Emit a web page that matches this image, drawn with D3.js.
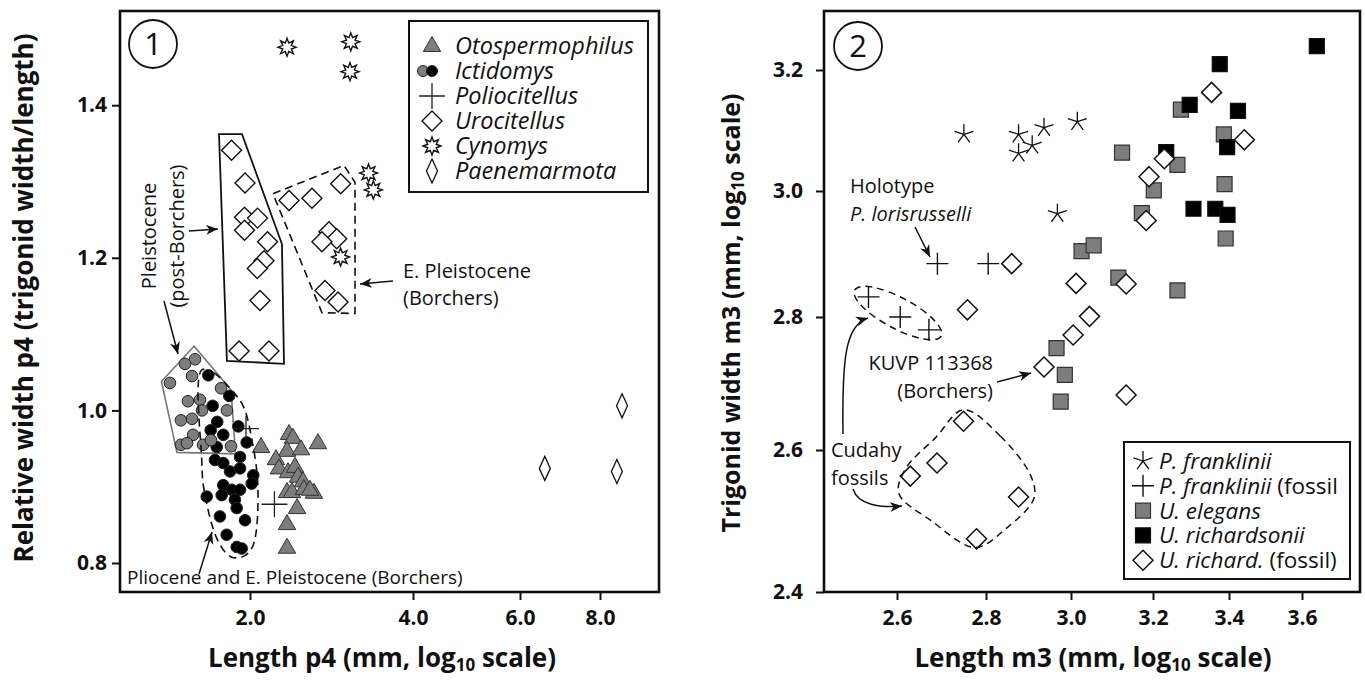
<!DOCTYPE html>
<html><head><meta charset="utf-8">
<script src="https://cdn.jsdelivr.net/npm/d3@7"></script>
<style>
body{margin:0;background:#fff}
svg{display:block}
text{font-family:"Open Sans","Noto Sans",sans-serif;fill:#111}
</style></head>
<body><svg id="c" width="1365" height="681"></svg>
<script>
// ---------------- DATA: panel 1 (Length p4 vs relative width p4) ----------------
const p1XTicks = [2, 4, 6, 8];
const p1YTicks = [0.8, 1.0, 1.2, 1.4];
const p1Legend = ["Otospermophilus", "Ictidomys", "Poliocitellus", "Urocitellus", "Cynomys", "Paenemarmota"];
const otospermophilus = [[2.096,0.952],[2.361,0.969],[2.401,0.964],[2.670,0.957],[2.341,0.947],[2.484,0.949],[2.233,0.936],[2.262,0.924],[2.351,0.919],[2.422,0.926],[2.453,0.913],[2.505,0.907],[2.341,0.893],[2.391,0.893],[2.515,0.897],[2.625,0.892],[2.443,0.872],[2.341,0.851],[2.341,0.820],[2.581,0.896]];
const ictidomysGray = [[1.583,1.067],[1.517,1.061],[1.423,1.036],[1.563,1.045],[1.768,1.029],[1.536,1.012],[1.617,1.014],[1.631,1.000],[1.813,1.000],[1.491,0.987],[1.563,0.989],[1.570,0.968],[1.491,0.955],[1.530,0.957],[1.638,0.955],[1.694,0.961],[1.845,0.953]];
const ictidomysBlack = [[1.675,1.046],[1.831,1.019],[1.706,1.006],[1.740,0.985],[1.692,0.974],[1.785,0.968],[1.903,0.979],[1.972,0.958],[1.736,0.952],[1.723,0.935],[1.785,0.931],[1.917,0.939],[1.837,0.920],[1.917,0.924],[2.028,0.915],[2.014,0.904],[1.785,0.902],[1.850,0.896],[1.917,0.896],[1.664,0.887],[1.773,0.889],[1.876,0.883],[1.890,0.872],[1.760,0.861],[1.958,0.856],[1.811,0.837],[1.890,0.821],[1.931,0.819]];
const poliocitellus = [[1.966,0.976],[2.219,0.877]];
const urocitellus = [[1.849,1.341],[1.958,1.298],[1.954,1.253],[2.065,1.252],[1.954,1.236],[2.155,1.221],[2.123,1.196],[2.063,1.186],[2.087,1.144],[1.909,1.078],[2.168,1.078],[2.361,1.275],[2.603,1.278],[2.941,1.297],[2.798,1.234],[2.892,1.225],[2.716,1.221],[2.751,1.157],[2.908,1.142]];
const cynomys = [[2.341,1.476],[3.07,1.483],[3.06,1.444],[3.311,1.311],[3.379,1.289],[2.94,1.201]];
const paenemarmota = [[8.66,1.006],[6.56,0.924],[8.50,0.920]];
// group outlines (data units)
const hullPostBorchers = [[1.753,1.362],[1.933,1.362],[2.291,1.218],[2.311,1.061],[1.813,1.065]];
const hullEPleistocene = [[2.205,1.284],[2.983,1.321],[3.126,1.299],[3.126,1.127],[2.716,1.128]];
const hullIctidomysGray = [[1.577,1.084],[1.3725,1.038],[1.466,0.945],[1.880,0.943],[1.845,1.027]];
const hullPliocene = [[1.629,1.053],[1.716,1.049],[1.837,1.029],[1.942,1.006],[2.017,0.961],[2.069,0.897],[2.026,0.823],[1.950,0.809],[1.845,0.808],[1.745,0.829],[1.645,0.896],[1.629,0.935]];

// ---------------- DATA: panel 2 (Length m3 vs trigonid width m3) ----------------
const p2XTicks = [2.6, 2.8, 3.0, 3.2, 3.4, 3.6];
const p2YTicks = [2.4, 2.6, 2.8, 3.0, 3.2];
const p2Legend = ["P. franklinii", "P. franklinii (fossil", "U. elegans", "U. richardsonii", "U. richard. (fossil)"];
const pFranklinii = [[2.749,3.092],[2.875,3.092],[2.935,3.103],[3.015,3.113],[2.907,3.074],[2.875,3.061],[2.967,2.963]];
const pFranklinFossil = [[2.689,2.883],[2.805,2.883],[2.539,2.831],[2.607,2.800],[2.670,2.780]];
const uElegans = [[3.272,3.133],[3.123,3.062],[3.263,3.042],[3.202,3.001],[3.386,3.092],[3.388,3.011],[3.172,2.964],[3.025,2.903],[3.054,2.912],[3.114,2.861],[3.391,2.923],[3.263,2.841],[2.965,2.752],[2.985,2.711],[2.975,2.671]];
const uRichardsonii = [[3.375,3.210],[3.295,3.141],[3.424,3.131],[3.234,3.063],[3.395,3.071],[3.305,2.971],[3.363,2.971],[3.396,2.961],[3.642,3.241]];
const uRichardFossil = [[3.353,3.162],[3.441,3.083],[3.229,3.052],[3.190,3.023],[3.183,2.952],[2.859,2.883],[3.012,2.852],[3.133,2.851],[3.044,2.801],[2.757,2.811],[3.005,2.772],[2.935,2.723],[3.133,2.681],[2.748,2.642],[2.688,2.581],[2.629,2.562],[2.875,2.532],[2.778,2.473]];
const cudahyOutline = [[2.748,2.659],[2.833,2.620],[2.904,2.562],[2.911,2.530],[2.845,2.487],[2.775,2.461],[2.674,2.499],[2.604,2.537],[2.618,2.572],[2.685,2.618]];
const kuvpCenter = [2.602, 2.806];

// ---------------- LAYOUT ----------------
const svg = d3.select("#c");
const P1 = {left:120, right:659, top:11, bottom:592};
const P2 = {left:824, right:1360, top:11, bottom:592};

const x1 = d3.scaleLog().domain(p1XTicks).range([250, 413, 520, 600]);
const y1 = d3.scaleLinear().domain([0.8, 1.4]).range([563, 105.2]);
const x2 = d3.scaleLog().domain(p2XTicks).range([897, 986, 1071, 1153, 1229, 1302]);
const y2 = d3.scaleLog().domain(p2YTicks).range([592, 450, 317, 191, 70]);

const GRAY = "#7d7d7d";
const defs = svg.append("defs");
defs.append("marker").attr("id","ah").attr("viewBox","-12 -6 14 12").attr("refX",0).attr("refY",0)
  .attr("markerWidth",14).attr("markerHeight",12).attr("markerUnits","userSpaceOnUse").attr("orient","auto")
  .append("path").attr("d","M0,0L-12,-5L-8.5,0L-12,5Z").attr("fill","#111");

// symbol paths
const star8 = (() => { let p=[]; for (let i=0;i<16;i++){const a=(-90+i*22.5)*Math.PI/180, r=i%2?4.6:9; p.push([r*Math.cos(a), r*Math.sin(a)]);} return "M"+p.map(q=>q[0].toFixed(2)+","+q[1].toFixed(2)).join("L")+"Z"; })();
const ast5 = (() => { let s=""; for (let i=0;i<5;i++){const a=(-90+i*72)*Math.PI/180; s+="M0,0L"+(10*Math.cos(a)).toFixed(2)+","+(10*Math.sin(a)).toFixed(2);} return s; })();
const SYM = {
  tri: "M0,-9.5L8.7,5.5L-8.7,5.5Z",
  dia: "M0,-10L10,0L0,10L-10,0Z",
  ndia: "M0,-12L5.5,0L0,12L-5.5,0Z",
  cross: "M-13,0H13M0,-13V13",
  plus: "M-11,0H11M0,-11V11",
  sq: "M-7.5,-7.5H7.5V7.5H-7.5Z",
  star8, ast5
};

function pts(g, data, x, y, d, fill, stroke, sw){
  g.append("g").selectAll("path").data(data).join("path")
    .attr("d", d).attr("transform", p => `translate(${x(p[0])},${y(p[1])})`)
    .attr("fill", fill).attr("stroke", stroke).attr("stroke-width", sw);
}
function circ(g, data, x, y, fill){
  g.append("g").selectAll("circle").data(data).join("circle")
    .attr("cx", p=>x(p[0])).attr("cy", p=>y(p[1])).attr("r", 5.8)
    .attr("fill", fill).attr("stroke", "#222").attr("stroke-width", 1);
}

// ---------------- PANEL 1 ----------------
const g1 = svg.append("g");
g1.append("path").attr("d", d3.line().x(d=>x1(d[0])).y(d=>y1(d[1])).curve(d3.curveLinearClosed)(hullIctidomysGray)).attr("fill","none").attr("stroke","#777").attr("stroke-width",1.6);

circ(g1, ictidomysBlack, x1, y1, "#000");
circ(g1, ictidomysGray, x1, y1, GRAY);
pts(g1, otospermophilus, x1, y1, SYM.tri, GRAY, "#333", 1);
pts(g1, poliocitellus, x1, y1, SYM.cross, "none", "#222", 1.3);
pts(g1, urocitellus, x1, y1, SYM.dia, "#fff", "#111", 1.4);
pts(g1, cynomys, x1, y1, SYM.star8, "#fff", "#111", 1.4);
pts(g1, paenemarmota, x1, y1, SYM.ndia, "#fff", "#111", 1.3);

g1.append("path").attr("d", d3.line().x(d=>x1(d[0])).y(d=>y1(d[1])).curve(d3.curveCatmullRomClosed.alpha(0.5))(hullPliocene))
  .attr("fill","none").attr("stroke","#111").attr("stroke-width",1.6).attr("stroke-dasharray","8,5");
g1.append("path").attr("d", d3.line().x(d=>x1(d[0])).y(d=>y1(d[1])).curve(d3.curveLinearClosed)(hullPostBorchers))
  .attr("fill","none").attr("stroke","#111").attr("stroke-width",1.8);
g1.append("path").attr("d", d3.line().x(d=>x1(d[0])).y(d=>y1(d[1])).curve(d3.curveLinearClosed)(hullEPleistocene))
  .attr("fill","none").attr("stroke","#111").attr("stroke-width",1.6).attr("stroke-dasharray","8,5");

g1.append("rect").attr("x",P1.left).attr("y",P1.top).attr("width",P1.right-P1.left).attr("height",P1.bottom-P1.top)
  .attr("fill","none").attr("stroke","#111").attr("stroke-width",2.6);

function styleAxis(g){
  g.select(".domain").remove();
  g.selectAll(".tick line").attr("stroke","#111").attr("stroke-width",2);
  g.selectAll(".tick text").style("font-weight","700").style("font-size","21px").attr("fill","#111");
}
svg.append("g").attr("transform",`translate(0,${P1.bottom})`)
  .call(d3.axisBottom(x1).tickValues(p1XTicks).tickFormat(d3.format(".1f")).tickSize(8).tickPadding(10)).call(styleAxis);
svg.append("g").attr("transform",`translate(${P1.left},0)`)
  .call(d3.axisLeft(y1).tickValues(p1YTicks).tickFormat(d3.format(".1f")).tickSize(8).tickPadding(5)).call(styleAxis);

g1.append("circle").attr("cx",153).attr("cy",44).attr("r",24).attr("fill","#fff").attr("stroke","#111").attr("stroke-width",1.8);
g1.append("text").attr("x",153).attr("y",55).attr("text-anchor","middle").style("font-size","31px").text("1");

// legend 1
const L1 = g1.append("g");
L1.append("rect").attr("x",409).attr("y",21).attr("width",239).attr("height",171).attr("fill","#fff").attr("stroke","#111").attr("stroke-width",2);
const l1sym = [
  [{d:SYM.tri, f:GRAY, s:"#333", w:1, dx:0}],
  [{c:GRAY, dx:-9},{c:"#000", dx:0}],
  [{d:SYM.cross, f:"none", s:"#222", w:1.3, dx:0}],
  [{d:SYM.dia, f:"#fff", s:"#111", w:1.4, dx:0}],
  [{d:SYM.star8, f:"#fff", s:"#111", w:1.4, dx:0}],
  [{d:SYM.ndia, f:"#fff", s:"#111", w:1.3, dx:0}]
];
p1Legend.forEach((name,i)=>{
  const cy = 46 + i*25, cx = 432;
  l1sym[i].forEach(m=>{
    if (m.c) L1.append("circle").attr("cx",cx+m.dx).attr("cy",cy).attr("r",5.5).attr("fill",m.c).attr("stroke","#222").attr("stroke-width",1);
    else L1.append("path").attr("d",m.d).attr("transform",`translate(${cx+m.dx},${cy})`).attr("fill",m.f).attr("stroke",m.s).attr("stroke-width",m.w);
  });
  L1.append("text").attr("x",455).attr("y",cy+8).style("font-style","italic").style("font-size","23.5px").text(name);
});

// annotations panel 1
const A1 = g1.append("g").attr("fill","none").attr("stroke","#111").attr("stroke-width",1.5);
A1.append("path").attr("d","M189,231L218,229").attr("marker-end","url(#ah)");
A1.append("path").attr("d","M164,301L178,354").attr("marker-end","url(#ah)");
A1.append("path").attr("d","M393,281L360,284").attr("marker-end","url(#ah)");
A1.append("path").attr("d","M199,574L212,532").attr("marker-end","url(#ah)");
const T = (g,x,y,s,size,opts={}) => { const t=g.append("text").attr("x",x).attr("y",y).style("font-size",size+"px").text(s); if(opts.anchor) t.attr("text-anchor",opts.anchor); if(opts.italic) t.style("font-style","italic"); if(opts.rot) t.attr("transform",`rotate(-90,${x},${y})`); return t; };
T(g1,156,236,"Pleistocene",20,{anchor:"middle",rot:true});
T(g1,184,236,"(post-Borchers)",20,{anchor:"middle",rot:true});
T(g1,403,278,"E. Pleistocene",20);
T(g1,403,305,"(Borchers)",20);
T(g1,127,584,"Pliocene and E. Pleistocene (Borchers)",19);

// titles panel 1
const tx1 = svg.append("text").attr("x",382).attr("y",667).attr("text-anchor","middle").style("font-weight","700").style("font-size","26px");
tx1.append("tspan").text("Length p4 (mm, log");
tx1.append("tspan").attr("dy",4).style("font-size","17px").text("10");
tx1.append("tspan").attr("dy",-4).text(" scale)");
svg.append("text").attr("transform","translate(33,298) rotate(-90)").attr("text-anchor","middle").style("font-weight","700").style("font-size","26px")
  .text("Relative width p4 (trigonid width/length)");

// ---------------- PANEL 2 ----------------
const g2 = svg.append("g");
pts(g2, pFranklinii, x2, y2, SYM.ast5, "none", "#111", 1.3);
pts(g2, pFranklinFossil, x2, y2, SYM.plus, "none", "#111", 1.4);
pts(g2, uElegans, x2, y2, SYM.sq, GRAY, "#333", 1.2);
pts(g2, uRichardsonii, x2, y2, SYM.sq, "#000", "#111", 1.2);
pts(g2, uRichardFossil, x2, y2, SYM.dia, "#fff", "#111", 1.5);

g2.append("ellipse").attr("cx",x2(kuvpCenter[0])).attr("cy",y2(kuvpCenter[1])).attr("rx",49).attr("ry",15.5)
  .attr("transform",`rotate(28,${x2(kuvpCenter[0])},${y2(kuvpCenter[1])})`)
  .attr("fill","none").attr("stroke","#111").attr("stroke-width",1.5).attr("stroke-dasharray","7,5");
g2.append("path").attr("d", d3.line().x(d=>x2(d[0])).y(d=>y2(d[1])).curve(d3.curveCatmullRomClosed.alpha(0.5))(cudahyOutline))
  .attr("fill","none").attr("stroke","#111").attr("stroke-width",1.5).attr("stroke-dasharray","7,5");

g2.append("rect").attr("x",P2.left).attr("y",P2.top).attr("width",P2.right-P2.left).attr("height",P2.bottom-P2.top)
  .attr("fill","none").attr("stroke","#111").attr("stroke-width",2.6);

svg.append("g").attr("transform",`translate(0,${P2.bottom})`)
  .call(d3.axisBottom(x2).tickValues(p2XTicks).tickFormat(d3.format(".1f")).tickSize(8).tickPadding(10)).call(styleAxis);
svg.append("g").attr("transform",`translate(${P2.left},0)`)
  .call(d3.axisLeft(y2).tickValues(p2YTicks).tickFormat(d3.format(".1f")).tickSize(8).tickPadding(13)).call(styleAxis);

g2.append("circle").attr("cx",858).attr("cy",46).attr("r",24).attr("fill","#fff").attr("stroke","#111").attr("stroke-width",1.8);
g2.append("text").attr("x",858).attr("y",57).attr("text-anchor","middle").style("font-size","31px").text("2");

// legend 2
const L2 = g2.append("g");
L2.append("rect").attr("x",1124).attr("y",442).attr("width",226).attr("height",137).attr("fill","#fff").attr("stroke","#111").attr("stroke-width",2);
const l2sym = [
  {d:SYM.ast5, f:"none", s:"#111", w:1.3},
  {d:SYM.plus, f:"none", s:"#111", w:1.4},
  {d:SYM.sq, f:GRAY, s:"#333", w:1.2},
  {d:SYM.sq, f:"#000", s:"#111", w:1.2},
  {d:SYM.dia, f:"#fff", s:"#111", w:1.5}
];
p2Legend.forEach((name,i)=>{
  const cy = 461 + i*24.8;
  const m = l2sym[i];
  L2.append("path").attr("d",m.d).attr("transform",`translate(1143,${cy})`).attr("fill",m.f).attr("stroke",m.s).attr("stroke-width",m.w);
  const t = L2.append("text").attr("x",1159).attr("y",cy+8).style("font-size","22.5px");
  const k = name.indexOf(" (");
  if (k>0){ t.append("tspan").style("font-style","italic").text(name.slice(0,k)); t.append("tspan").text(name.slice(k)); }
  else t.style("font-style","italic").text(name);
});

// annotations panel 2
const A2 = g2.append("g").attr("fill","none").attr("stroke","#111").attr("stroke-width",1.5);
A2.append("path").attr("d","M915,227L930,257").attr("marker-end","url(#ah)");
A2.append("path").attr("d","M997,382L1031,373").attr("marker-end","url(#ah)");
A2.append("path").attr("d","M843,434C842,360 845,325 868,318").attr("marker-end","url(#ah)");
A2.append("path").attr("d","M853,489C858,505 880,508 902,506").attr("marker-end","url(#ah)");
T(g2,850,193,"Holotype",20);
T(g2,850,221,"P. lorisrusselli",20,{italic:true});
T(g2,993,370,"KUVP 113368",20,{anchor:"end"});
T(g2,993,398,"(Borchers)",20,{anchor:"end"});
T(g2,831,457,"Cudahy",20);
T(g2,831,485,"fossils",20);

const tx2 = svg.append("text").attr("x",1093).attr("y",667).attr("text-anchor","middle").style("font-weight","700").style("font-size","26px");
tx2.append("tspan").text("Length m3 (mm, log");
tx2.append("tspan").attr("dy",4).style("font-size","17px").text("10");
tx2.append("tspan").attr("dy",-4).text(" scale)");
const ty2 = svg.append("text").attr("transform","translate(740,313) rotate(-90)").attr("text-anchor","middle").style("font-weight","700").style("font-size","25px");
ty2.append("tspan").text("Trigonid width m3 (mm, log");
ty2.append("tspan").attr("dy",4).style("font-size","17px").text("10");
ty2.append("tspan").attr("dy",-4).text(" scale)");
</script>
</body></html>
